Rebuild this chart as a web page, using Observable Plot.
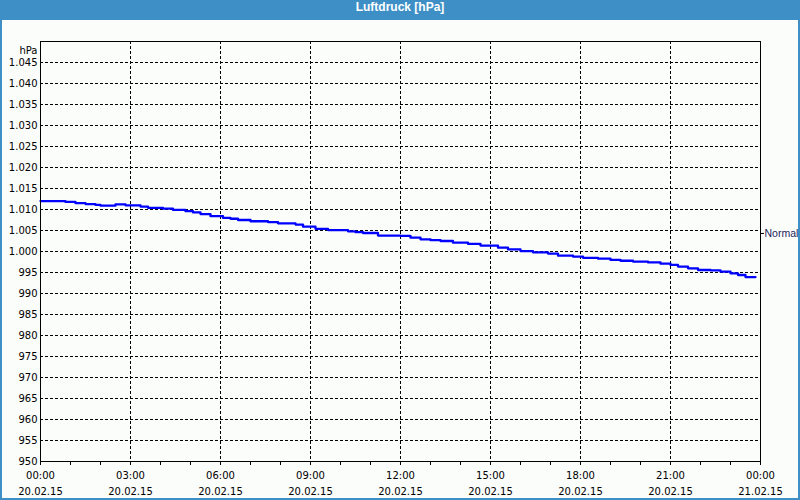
<!DOCTYPE html>
<html><head><meta charset="utf-8">
<script src="https://cdn.jsdelivr.net/npm/d3@7"></script>
<script src="https://cdn.jsdelivr.net/npm/@observablehq/plot@0.6"></script>
<style>
body{margin:0;background:#fff}
#win{position:relative;width:800px;height:500px;background:#3d8fc6;overflow:hidden}
#title{position:absolute;left:0;top:0;width:800px;height:20px;line-height:20px;text-align:center;color:#fff;font:bold 12px "Liberation Sans",sans-serif}
#chart{position:absolute;left:2px;top:20px;width:796px;height:478px;background:#fbfdfb}
#chart svg{display:block}
</style></head><body>
<div id="win"><div id="title">Luftdruck [hPa]</div><div id="chart"></div></div>
<script>
const times = ["00:00","00:50","01:10","01:30","01:50","02:00","02:30","02:50","03:20","03:35","04:05","04:25","04:50","05:05","05:20","05:40","06:05","06:20","06:35","07:00","07:35","07:55","08:30","08:45","09:10","09:35","10:15","10:30","10:45","11:15","12:00","12:20","12:40","13:00","13:20","13:45","14:15","14:40","15:15","15:35","16:00","16:25","16:55","17:15","17:45","18:05","18:35","19:00","19:20","19:45","20:15","20:40","21:00","21:15","21:35","21:55","22:20","22:40","23:00","23:15","23:30","23:50"];
const pressure = [1012.0,1011.8,1011.5,1011.3,1011.1,1010.9,1011.2,1011.0,1010.7,1010.4,1010.2,1009.9,1009.6,1009.3,1008.9,1008.4,1008.0,1007.8,1007.5,1007.2,1007.0,1006.7,1006.4,1005.9,1005.4,1005.1,1004.8,1004.6,1004.4,1003.8,1003.7,1003.3,1002.9,1002.7,1002.5,1002.1,1001.8,1001.4,1000.9,1000.5,1000.1,999.8,999.5,999.0,998.8,998.5,998.3,998.0,997.8,997.6,997.4,997.1,996.8,996.4,996.0,995.6,995.5,995.2,994.8,994.4,993.9,993.9];
const yTicks = [950,955,960,965,970,975,980,985,990,995,1000,1005,1010,1015,1020,1025,1030,1035,1040,1045];
const yMax = 1050;
const unitLabel = "hPa";
const normalValue = 1004.3;
const normalLabel = "Normal";

const x0 = new Date(Date.UTC(2015,1,20,0,0));
const x1 = new Date(Date.UTC(2015,1,21,0,0));
const parseT = t => { const [h,m] = t.split(":").map(Number); return new Date(Date.UTC(2015,1,20,h,m)); };
const data = times.map((t,i) => ({time: parseT(t), value: pressure[i]}));
const majorTicks = d3.utcHour.every(3).range(x0, d3.utcHour.offset(x1,1));
const minorTicks = d3.utcHour.range(x0, d3.utcHour.offset(x1,1));
const fmtDE = d3.formatLocale({decimal:",", thousands:".", grouping:[3], currency:["","€"]}).format(",d");
const fmtTime = d3.utcFormat("%H:%M"), fmtDate = d3.utcFormat("%d.%m.%y");

const plot = Plot.plot({
  width: 796, height: 478,
  marginLeft: 38, marginRight: 38, marginTop: 21, marginBottom: 37,
  style: {fontFamily: "DejaVu Sans, sans-serif", fontSize: "10px", background: "transparent", color: "#000", overflow: "visible"},
  x: {type: "utc", domain: [x0, x1], label: null},
  y: {domain: [950, yMax], label: null},
  marks: [
    Plot.gridY(yTicks.filter(v => v > 950), {stroke: "#000", strokeOpacity: 1, strokeDasharray: "3,2"}),
    Plot.gridX(majorTicks.filter(d => d > x0 && d < x1), {stroke: "#000", strokeOpacity: 1, strokeDasharray: "3,2"}),
    Plot.axisY(yTicks, {tickSize: 0, tickPadding: 3, tickFormat: fmtDE, label: null}),
    Plot.text([unitLabel], {frameAnchor: "top-left", textAnchor: "end", dx: -3, dy: 5}),
    Plot.axisX(minorTicks, {tickSize: 4, tickFormat: () => "", label: null}),
    Plot.axisX(majorTicks, {tickSize: 0, tickPadding: 6, lineHeight: 1.6, label: null, tickFormat: d => fmtTime(d) + "\n" + fmtDate(d)}),
    Plot.axisY([normalValue], {anchor: "right", tickSize: 3, tickPadding: 1, label: null, tickFormat: () => normalLabel, fill: "#1c1c5c", stroke: "#000", fontFamily: "Liberation Sans, sans-serif", fontSize: 10.5}),
    Plot.line(data, {x: "time", y: "value", stroke: "#0000ff", strokeWidth: 2.3, curve: "step-after"}),
    Plot.frame({stroke: "#000"})
  ]
});
document.getElementById("chart").appendChild(plot);
</script>
</body></html>
